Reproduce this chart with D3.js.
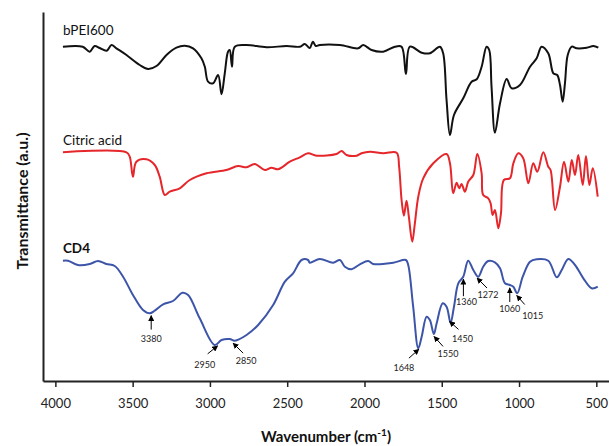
<!DOCTYPE html>
<html>
<head>
<meta charset="utf-8">
<script src="https://cdn.jsdelivr.net/npm/d3@7"></script>
<style>
  body { margin: 0; background: #fff; }
  svg { display: block; font-family: Lato, "Open Sans", sans-serif; }
</style>
</head>
<body>
<div id="chart"></div>
<script>
// Spectra (wavenumber in cm-1, transmittance in a.u., offset per trace)
var bpeiWn = [3951, 3823, 3778, 3746, 3713, 3668, 3637, 3605, 3540, 3454, 3400, 3346, 3281, 3217, 3163, 3109,
  3055, 3033, 3012, 2980, 2947, 2925, 2904, 2883, 2872, 2857, 2839, 2763, 2634, 2504, 2418, 2386, 2354, 2334,
  2315, 2289, 2159, 2041, 2008, 1954, 1879, 1803, 1760, 1732, 1706, 1630, 1577, 1512, 1491, 1469, 1447, 1421,
  1361, 1307, 1274, 1242, 1210, 1193, 1178, 1156, 1123, 1080, 1048, 994, 929, 886, 854, 811, 778, 753, 735,
  718, 703, 685, 659, 627, 562, 519, 487];
var bpeiT = [334.3, 334.3, 329.3, 335, 333, 330.3, 336, 332.7, 326, 316, 312, 315, 326, 333.3, 335.3, 332.7,
  322.7, 314.3, 299.3, 297.7, 306, 286.7, 307.7, 329.3, 331, 314.3, 334.3, 336, 333.7, 335, 334.3, 337, 333, 339.3,
  335, 336, 336, 332.7, 336, 331, 329.3, 334.3, 334.3, 307, 334.3, 328.3, 327.7, 334.3, 327.7, 281, 246, 266,
  282.7, 299.3, 301.7, 314.3, 334.3, 331, 294.3, 248.3, 277.7, 302, 292.7, 296, 314.3, 322.7, 334.3, 327.7, 307.7, 306, 296,
  279.3, 297.7, 326, 334.3, 332.7, 333.3, 335, 333.3];

var citricWn = [3951, 3540, 3519, 3498, 3476, 3411, 3357, 3325, 3292, 3260, 3195, 3130, 3022, 2893, 2818, 2763,
  2710, 2645, 2602, 2559, 2483, 2418, 2365, 2310, 2181, 2148, 2116, 2051, 2019, 1965, 1879, 1792, 1776, 1760,
  1745, 1728, 1713, 1691, 1674, 1652, 1620, 1555, 1469, 1447, 1426, 1404, 1387, 1372, 1350, 1329, 1296, 1270,
  1242, 1232, 1199, 1184, 1171, 1156, 1134, 1117, 1098, 1059, 1037, 1005, 973, 940, 908, 882, 843, 811, 796,
  767, 735, 709, 681, 659, 638, 617, 588, 567, 545, 523, 491];
var citricT = [228.7, 228.7, 224.3, 204.3, 219.3, 221.7, 216, 204.3, 186, 189.3, 192.7, 201, 207.7, 211, 215, 213.7,
  217, 211, 213.3, 211.7, 219.3, 223.7, 227.7, 225.3, 227, 230, 226, 225.3, 227.7, 229.3, 227.7, 228.3, 214.3, 181,
  165.3, 180.3, 164.3, 139.3, 157.7, 184.3, 202.7, 217.7, 227, 217.7, 187.7, 198.3, 192.7, 197, 189.3, 199.3, 206, 227,
  207.7, 186, 182.7, 177.7, 166, 171, 152.7, 167.7, 201, 202.7, 217.7, 227.7, 222.7, 197.7, 217.7, 209.3, 228.7, 214.3, 211,
  171, 194.3, 219.3, 199.3, 221, 206, 226, 196, 225, 196, 212.7, 184.3];

var cd4Wn = [3951, 3918, 3854, 3778, 3724, 3670, 3616, 3562, 3498, 3433, 3389, 3357, 3303, 3239, 3178, 3141,
  3066, 2969, 2925, 2872, 2839, 2763, 2688, 2591, 2515, 2462, 2407, 2365, 2354, 2289, 2203, 2159, 2127, 2084,
  2030, 1976, 1944, 1814, 1732, 1717, 1685, 1652, 1630, 1598, 1577, 1551, 1533, 1494, 1469, 1443, 1421, 1393,
  1361, 1329, 1296, 1264, 1232, 1199, 1156, 1123, 1091, 1059, 1037, 1012, 976, 929, 886, 811, 756, 724, 681,
  638, 584, 530, 491];
var cd4T = [120.3, 120.3, 116, 117, 120, 117, 115, 104.3, 86, 71, 67.7, 70.3, 76.7, 80, 88.3, 86,
  62.7, 36, 41, 42, 40.3, 46, 56, 76, 99.3, 107.7, 121, 121, 118.3, 122, 118.3, 121, 114.3, 111.7,
  116.7, 120, 117, 118.3, 121, 116, 74.3, 32.7, 44.3, 64.3, 61, 47, 57.7, 77.7, 74.3, 58.3, 74.3, 97.7,
  104.3, 120.3, 111, 104.3, 114.3, 120, 118.7, 112.7, 97.7, 96, 94.3, 87.7, 104.3, 119.3, 121.7, 120.3, 103.7, 111, 122,
  116, 102.7, 92.7, 94.3];

var xTicks = [4000, 3500, 3000, 2500, 2000, 1500, 1000, 500];

// Peak labels on CD4 (dx, dy: arrow tail offset from tip, lx, ly: label offset from tip)
var peaks = [
  {wn: 3380, dx: 0, dy: 14, lx: 0, ly: 26},
  {wn: 2950, dx: -10, dy: 8, lx: -13, ly: 22},
  {wn: 2850, dx: 10, dy: 10, lx: 13, ly: 21},
  {wn: 1648, dx: -10, dy: 9, lx: -15, ly: 22},
  {wn: 1550, dx: 9, dy: 10, lx: 14, ly: 21},
  {wn: 1450, dx: 9, dy: 8, lx: 13, ly: 21},
  {wn: 1360, dx: 0, dy: 17, lx: 3, ly: 26},
  {wn: 1272, dx: 10, dy: 10, lx: 11, ly: 20},
  {wn: 1060, dx: 0, dy: 14, lx: 0, ly: 24},
  {wn: 1015, dx: 8, dy: 9, lx: 16, ly: 23}
];

var series = [
  {name: "bPEI600", wn: bpeiWn, t: bpeiT, color: "#111111", bold: false, labelDy: -12},
  {name: "Citric acid", wn: citricWn, t: citricT, color: "#e5262b", bold: false, labelDy: -7},
  {name: "CD4", wn: cd4Wn, t: cd4T, color: "#3d55a8", bold: true, labelDy: -8}
];

var width = 609, height = 446;
var plot = {left: 43, right: 609, top: 12, bottom: 381};

var x = d3.scaleLinear().domain([4080, 418]).range([plot.left, plot.right]);
var y = d3.scaleLinear().domain([0, 369]).range([plot.bottom, plot.top]);

var svg = d3.select("#chart").append("svg")
    .attr("width", width)
    .attr("height", height);

svg.append("defs").append("marker")
    .attr("id", "arrow")
    .attr("viewBox", "0 0 10 10")
    .attr("refX", 9).attr("refY", 5)
    .attr("markerWidth", 6).attr("markerHeight", 6)
    .attr("markerUnits", "userSpaceOnUse")
    .attr("orient", "auto")
  .append("path")
    .attr("d", "M0,0 L10,5 L0,10 Z")
    .attr("fill", "#000");

// axes
var xAxis = svg.append("g")
    .attr("transform", "translate(0," + plot.bottom + ")")
    .call(d3.axisBottom(x).tickValues(xTicks).tickFormat(d3.format("d"))
      .tickSize(6).tickSizeOuter(0).tickPadding(12));
xAxis.selectAll("text").attr("font-size", 13).attr("font-family", "Lato, sans-serif").attr("fill", "#222");
xAxis.selectAll("line").attr("stroke", "#222").attr("stroke-width", 1.5);
xAxis.select(".domain").attr("stroke", "#222").attr("stroke-width", 2);

var yAxis = svg.append("g")
    .attr("transform", "translate(" + plot.left + ",0)")
    .call(d3.axisLeft(y).tickValues([]).tickSizeOuter(0));
yAxis.select(".domain").attr("stroke", "#222").attr("stroke-width", 2);

var xTitle = svg.append("text")
    .attr("x", (plot.left + plot.right) / 2)
    .attr("y", 442)
    .attr("text-anchor", "middle")
    .attr("font-weight", "bold")
    .attr("font-size", 15)
    .attr("fill", "#111");
xTitle.append("tspan").text("Wavenumber (cm");
xTitle.append("tspan").attr("baseline-shift", "super").attr("font-size", 10).text("-1");
xTitle.append("tspan").text(")");

svg.append("text")
    .attr("transform", "translate(28,201) rotate(-90)")
    .attr("text-anchor", "middle")
    .attr("font-weight", "bold")
    .attr("font-size", 16)
    .attr("fill", "#111")
    .text("Transmittance (a.u.)");

// spectra
var line = d3.line()
    .x(function(d) { return x(d[0]); })
    .y(function(d) { return y(d[1]); })
    .curve(d3.curveCatmullRom.alpha(0.5));

series.forEach(function(s) {
  var pts = s.wn.map(function(w, i) { return [w, s.t[i]]; });
  svg.append("path")
      .datum(pts)
      .attr("fill", "none")
      .attr("stroke", s.color)
      .attr("stroke-width", 2)
      .attr("stroke-linejoin", "round")
      .attr("d", line);

  svg.append("text")
      .attr("x", x(s.wn[0]))
      .attr("y", y(s.t[0]) + s.labelDy)
      .attr("font-size", 13.5)
      .attr("font-weight", s.bold ? "bold" : "normal")
      .attr("fill", "#111")
      .text(s.name);
});

// value of CD4 at a wavenumber (linear between read points)
function cd4At(w) {
  for (var i = 0; i < cd4Wn.length - 1; i++) {
    if (w <= cd4Wn[i] && w >= cd4Wn[i + 1]) {
      var f = (cd4Wn[i] - w) / (cd4Wn[i] - cd4Wn[i + 1]);
      return cd4T[i] + f * (cd4T[i + 1] - cd4T[i]);
    }
  }
  return cd4T[cd4T.length - 1];
}

var ann = svg.append("g").selectAll("g")
    .data(peaks)
    .enter().append("g")
    .attr("transform", function(d) {
      return "translate(" + x(d.wn) + "," + (y(cd4At(d.wn)) + 3) + ")";
    });

ann.append("line")
    .attr("x1", function(d) { return d.dx; })
    .attr("y1", function(d) { return d.dy; })
    .attr("x2", 0).attr("y2", 0)
    .attr("stroke", "#000")
    .attr("stroke-width", 1)
    .attr("marker-end", "url(#arrow)");

ann.append("text")
    .attr("x", function(d) { return d.lx; })
    .attr("y", function(d) { return d.ly; })
    .attr("text-anchor", "middle")
    .attr("font-size", 9)
    .attr("fill", "#222")
    .text(function(d) { return d.wn; });
</script>
</body>
</html>
